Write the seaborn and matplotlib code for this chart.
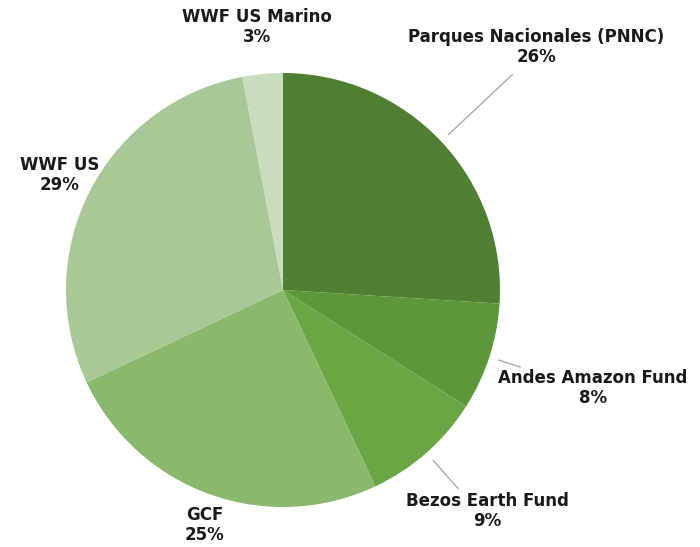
import numpy as np
import matplotlib
matplotlib.use("Agg")
import matplotlib.pyplot as plt
import seaborn as sns

sns.set_theme(style="white")
plt.rcParams["font.family"] = ["DejaVu Sans"]

# =====================================
# Data
# =====================================

funders = [
    "Parques Nacionales (PNNC)",
    "Andes Amazon Fund",
    "Bezos Earth Fund",
    "GCF",
    "WWF US",
    "WWF US Marino",
]
shares = [26, 8, 9, 25, 29, 3]
colors = ["#4f7f33", "#5c9739", "#6aa744", "#8ab86c", "#a9c897", "#c8ddbd"]

# label layout (pixel coords, top-left origin) and leader line end radius
label_xy = [(536, 47), (593, 388), (487, 511), (205, 525), (60, 175), (257, 27)]
leader_out = [1.45, 1.15, 1.22, None, None, None]

W, H = 700, 547
cx, cy, R = 283, H - 290, 217

# =====================================
# Chart
# =====================================

fig = plt.figure(figsize=(7, 5.47), dpi=100)
ax = fig.add_axes([0, 0, 1, 1])

wedges, _ = ax.pie(
    shares,
    colors=colors,
    startangle=90,
    counterclock=False,
    center=(cx, cy),
    radius=R,
    wedgeprops=dict(linewidth=0),
)

for w, name, val, (lx, ly), rout in zip(wedges, funders, shares, label_xy, leader_out):
    if rout is not None:
        mid = np.deg2rad((w.theta1 + w.theta2) / 2)
        r0, r1 = R * 1.045, R * rout
        ax.plot(
            [cx + r0 * np.cos(mid), cx + r1 * np.cos(mid)],
            [cy + r0 * np.sin(mid), cy + r1 * np.sin(mid)],
            color="#aaaaaa",
            linewidth=1,
        )
    ax.text(
        lx, H - ly,
        f"{name}\n{val}%",
        ha="center",
        va="center",
        fontsize=12,
        fontweight="bold",
        color="#1a1a1a",
        linespacing=1.2,
    )

ax.set_xlim(0, W)
ax.set_ylim(0, H)
ax.set_aspect("equal")
ax.axis("off")

fig.savefig("out.png", dpi=100, facecolor="white")
plt.close(fig)
